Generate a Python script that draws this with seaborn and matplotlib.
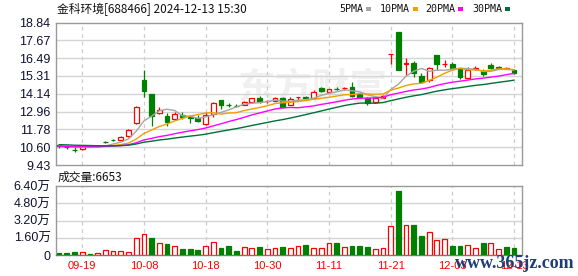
import numpy as np
import pandas as pd
import matplotlib
matplotlib.use("Agg")
import matplotlib.pyplot as plt
from matplotlib.patches import Rectangle
import seaborn as sns

# ---------------- data ----------------
dates = ["09-12", "09-13", "09-18", "09-19", "09-20", "09-23", "09-24", "09-25", "09-26", "09-27",
         "09-30", "10-08", "10-09", "10-10", "10-11", "10-14", "10-15", "10-16", "10-17", "10-18",
         "10-21", "10-22", "10-23", "10-24", "10-25", "10-28", "10-29", "10-30", "10-31", "11-01",
         "11-04", "11-05", "11-06", "11-07", "11-08", "11-11", "11-12", "11-13", "11-14", "11-15",
         "11-18", "11-19", "11-20", "11-21", "11-22", "11-25", "11-26", "11-27", "11-28", "11-29",
         "12-02", "12-03", "12-04", "12-05", "12-06", "12-09", "12-10", "12-11", "12-12", "12-13"]

opens = [10.72, 10.62, 10.45, 10.47, 10.71, 10.66, 10.96, 11.10, 11.08, 11.34,
         12.22, 15.04, 14.12, 12.85, 12.69, 12.45, 12.73, 12.57, 12.55, 12.14,
         12.80, 13.72, 13.40, 13.35, 13.39, 13.61, 13.87, 13.64, 13.66, 13.84,
         13.39, 13.94, 13.89, 13.84, 14.52, 14.27, 14.47, 14.52, 14.60, 14.15,
         13.84, 13.61, 13.87, 16.78, 18.19, 16.10, 16.14, 15.33, 15.04, 16.70,
         16.08, 16.08, 15.82, 15.20, 15.80, 15.65, 16.02, 15.88, 15.80, 15.70]
highs = [10.82, 10.66, 10.62, 10.72, 10.74, 10.76, 11.03, 11.17, 11.32, 11.82,
         13.33, 15.70, 14.12, 13.25, 12.85, 12.90, 12.90, 12.75, 12.70, 12.90,
         13.60, 13.72, 13.55, 13.45, 13.63, 13.86, 13.98, 13.75, 13.90, 13.95,
         13.95, 13.95, 13.98, 14.40, 14.55, 14.47, 14.56, 14.55, 14.93, 14.25,
         13.95, 13.86, 14.02, 16.78, 18.19, 16.47, 16.32, 15.49, 15.92, 16.70,
         16.36, 16.20, 15.85, 15.92, 15.95, 15.75, 16.14, 15.94, 15.90, 15.75]
lows = [10.58, 10.50, 10.28, 10.45, 10.63, 10.62, 10.86, 11.01, 11.05, 11.30,
        12.17, 13.90, 12.01, 12.83, 12.01, 12.42, 12.45, 12.20, 12.30, 12.10,
        12.60, 13.11, 13.25, 13.25, 13.37, 13.59, 13.55, 13.55, 13.64, 13.22,
        13.37, 13.72, 13.80, 13.82, 14.28, 14.25, 14.35, 14.38, 13.90, 13.85,
        13.40, 13.55, 13.85, 16.08, 15.70, 15.37, 15.27, 14.83, 14.89, 15.70,
        15.92, 15.70, 15.12, 15.18, 15.70, 15.30, 15.80, 15.75, 15.75, 15.45]
closes = [10.66, 10.60, 10.42, 10.70, 10.66, 10.71, 10.93, 11.08, 11.30, 11.74,
          13.24, 14.34, 12.67, 13.07, 12.25, 12.80, 12.60, 12.55, 12.35, 12.73,
          13.51, 13.39, 13.37, 13.33, 13.61, 13.84, 13.61, 13.66, 13.84, 13.28,
          13.79, 13.95, 13.87, 14.25, 14.30, 14.45, 14.42, 14.53, 13.96, 13.92,
          13.50, 13.84, 14.00, 16.78, 15.70, 16.14, 15.49, 14.93, 15.82, 16.08,
          16.12, 15.82, 15.26, 15.70, 15.82, 15.45, 15.84, 15.86, 15.83, 15.52]
# volume in 万 (10k shares)
volumes = [0.19, 0.19, 0.28, 0.25, 0.09, 0.19, 0.46, 0.37, 0.37, 0.28,
           1.55, 1.95, 1.61, 1.11, 1.02, 0.84, 0.56, 0.56, 0.46, 0.80,
           1.21, 0.65, 0.84, 0.40, 0.71, 0.65, 0.74, 0.56, 0.62, 0.74,
           0.62, 0.80, 0.93, 0.62, 0.62, 1.08, 1.11, 0.71, 0.84, 0.84,
           0.74, 0.53, 0.62, 2.69, 5.94, 2.78, 2.78, 1.76, 2.13, 1.39,
           1.45, 0.84, 0.84, 0.90, 0.62, 1.11, 1.11, 0.53, 0.74, 0.6653]
# closes before the visible window (needed for the moving averages)
earlier_closes = [11.05, 11.10, 11.02, 10.98, 11.08, 11.12, 11.04, 10.96, 10.90, 10.85,
                  10.78, 10.70, 10.66, 10.62, 10.58, 10.64, 10.69, 10.66, 10.60, 10.57,
                  10.62, 10.66, 10.70, 10.64, 10.60, 10.63, 10.68, 10.71, 10.72]

price_ticks = [9.43, 10.60, 11.78, 12.96, 14.14, 15.31, 16.49, 17.67, 18.84]
price_tick_labels = ["9.43", "10.60", "11.78", "12.96", "14.14", "15.31", "16.49", "17.67", "18.84"]
vol_ticks = [0, 1.6, 3.2, 4.8, 6.4]
vol_tick_labels = ["0", "1.60万", "3.20万", "4.80万", "6.40万"]
date_tick_labels = ["09-19", "10-08", "10-18", "10-30", "11-11", "11-21", "12-03", "12-13"]
ma_windows = [5, 10, 20, 30]
ma_names = ["5PMA", "10PMA", "20PMA", "30PMA"]
ma_colors = ["#a6a6a6", "#f0a000", "#ff00ff", "#00703a"]
title = "金科环境[688466] 2024-12-13 15:30"

# ---------------- styling ----------------
sns.set_theme(style="white")
plt.rcParams["font.family"] = ["Liberation Sans", "Noto Sans CJK SC", "DejaVu Sans"]

UP = "#ff0000"
DOWN = "#008000"
GRID = "#d4d4d4"
SPINE = "#999999"
TXT = "#101030"

W, H = 578, 276
fig = plt.figure(figsize=(W / 100, H / 100), dpi=100)
fig.patch.set_facecolor("white")
L, R = 56, 522
ax = fig.add_axes([L / W, 1 - 165 / H, (R - L) / W, (165 - 22.5) / H])
axv = fig.add_axes([L / W, 1 - 255 / H, (R - L) / W, (255 - 186) / H])

n = len(closes)
idx = np.arange(n)
o = np.array(opens); c = np.array(closes); hi = np.array(highs); lo = np.array(lows)
prev = np.concatenate([[earlier_closes[-1]], c[:-1]])

# candle colors
up_candle = np.where(c > o, True, np.where(c < o, False, c >= prev))
col = np.where(up_candle, UP, DOWN)
face = np.where(up_candle, "white", DOWN)

# MAs
allc = pd.Series(earlier_closes + closes)
ma_df = pd.DataFrame({"idx": idx})
for w_, name in zip(ma_windows, ma_names):
    ma_df[name] = allc.rolling(w_).mean().to_numpy()[len(earlier_closes):]
ma_long = ma_df.melt(id_vars="idx", var_name="ma", value_name="price")

tick_pos = [dates.index(d) for d in date_tick_labels]

for a in (ax, axv):
    a.set_xlim(-0.4, n + 0.04)
    for s in a.spines.values():
        s.set_color(SPINE)
        s.set_linewidth(1.0)
    for p in tick_pos:
        a.axvline(p, color="#cccccc", lw=0.9, ls=(0, (3, 3)), zorder=0.6)

# watermark
ax.text(238 / W, 1 - 89 / H, "东方财富", transform=fig.transFigure, fontsize=27,
        color="#f0f0f0", ha="left", va="center", zorder=0.5,
        family=["Noto Sans CJK SC"], fontweight="bold")

# price panel
ax.set_ylim(price_ticks[0], price_ticks[-1])
ax.set_yticks(price_ticks)
ax.set_yticklabels(price_tick_labels)
for t in price_ticks[1:-1]:
    ax.axhline(t, color=GRID, lw=1.0, zorder=0.7)
ax.vlines(idx, lo, hi, colors=col, lw=0.9, zorder=2)
body_h = np.maximum(np.abs(c - o), 0.012)
ax.bar(idx, body_h, bottom=np.minimum(o, c), width=0.62, color=face,
       edgecolor=col, linewidth=0.9, zorder=3)
sns.lineplot(data=ma_long, x="idx", y="price", hue="ma", hue_order=ma_names,
             palette=ma_colors, ax=ax, lw=1.0, legend=False, zorder=4)
ax.set_xlabel(""); ax.set_ylabel("")
ax.set_xticks(tick_pos)
ax.set_xticklabels([])
ax.tick_params(axis="x", length=0)
ax.tick_params(axis="y", length=3, width=0.8, color=SPINE, labelsize=9, labelcolor=TXT, pad=1)

# volume panel
vol_up = c >= prev
vcol = np.where(vol_up, UP, DOWN)
vface = np.where(vol_up, "white", DOWN)
axv.set_ylim(vol_ticks[0], vol_ticks[-1])
axv.set_yticks(vol_ticks)
axv.set_yticklabels(vol_tick_labels)
for t in vol_ticks[1:-1]:
    axv.axhline(t, color=GRID, lw=1.0, zorder=0.7)
axv.bar(idx, volumes, width=0.62, color=vface, edgecolor=vcol, linewidth=0.9, zorder=3)
axv.set_xticks(tick_pos)
axv.set_xticklabels(date_tick_labels)
axv.tick_params(axis="x", length=0, labelsize=8, labelcolor="#ff0000", pad=4)
axv.tick_params(axis="y", length=3, width=0.8, color=SPINE, labelsize=9, labelcolor=TXT, pad=1)
axv.spines["bottom"].set_color("#777777")

# texts
cjk = ["Noto Sans CJK SC", "DejaVu Sans"]
fig.text(57 / W, 1 - 9 / H, title, fontsize=8.5, va="center", ha="left", family=cjk, color="#111111")
fig.text(58 / W, 1 - 177 / H, f"成交量:{round(volumes[-1] * 10000)}", fontsize=8.5,
         va="center", ha="left", family=cjk, color="#111111")

renderer = fig.canvas.get_renderer()
leg_x = [339, 380, 425, 472]
for xx, name, cc in zip(leg_x, ma_names, ma_colors):
    t = fig.text(xx / W, 1 - 9 / H, name, fontsize=7.2, va="center", ha="left",
                 family=["DejaVu Sans Mono"], color="#111111")
    bb = t.get_window_extent(renderer=renderer)
    fig.patches.append(Rectangle(((bb.x1 + 2.5) / W, 1 - 10.5 / H), 5 / W, 3 / H,
                                 transform=fig.transFigure, facecolor=cc, edgecolor="none"))

fig.text(455 / W, 1 - 263 / H, "www.365jz.com", fontsize=13, va="center", ha="left",
         family=["Liberation Serif"], fontweight="bold", color="#1d3d78")

fig.savefig("out.png", dpi=100, facecolor="white")
